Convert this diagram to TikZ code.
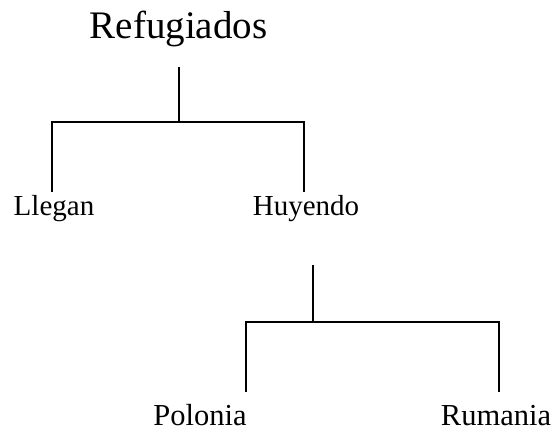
\documentclass[tikz,border=0pt]{standalone}
\usepackage{fontspec}
\setmainfont{Liberation Serif}
\usetikzlibrary{positioning}

\begin{document}
\begin{tikzpicture}[
        x=1pt, y=-1pt,
        label/.style={anchor=base, inner sep=0pt, font=\fontsize{29}{33}\selectfont},
        leaf/.style={label, font=\fontsize{30.5}{34}\selectfont},
        stem/.style={line width=1.3pt},
        bracket/.style={line width=2.2pt, line join=miter}
    ]

    \useasboundingbox (0,0) rectangle (553,432);

    \node[label, font=\fontsize{39}{44}\selectfont] (refugiados) at (178.5,38) {Refugiados};
    \node[label] (llegan) at (54,215) {Llegan};
    \node[label] (huyendo) at (306,215) {Huyendo};
    \node[leaf] (polonia) at (200,425) {Polonia};
    \node[leaf] (rumania) at (496,425) {Rumania};

    % first split
    \coordinate (top1) at (179,67);
    \coordinate (mid1) at (179,122);
    \coordinate (leg-llegan) at (52,192);
    \coordinate (leg-huyendo) at (304,192);
    \draw[stem] (top1) -- (mid1);
    \draw[bracket] (leg-llegan) |- (mid1) -| (leg-huyendo);

    % second split
    \coordinate (top2) at (313,265);
    \coordinate (mid2) at (313,322);
    \coordinate (leg-polonia) at (246,392);
    \coordinate (leg-rumania) at (499,392);
    \draw[stem] (top2) -- (mid2);
    \draw[bracket] (leg-polonia) |- (mid2) -| (leg-rumania);

\end{tikzpicture}
\end{document}
